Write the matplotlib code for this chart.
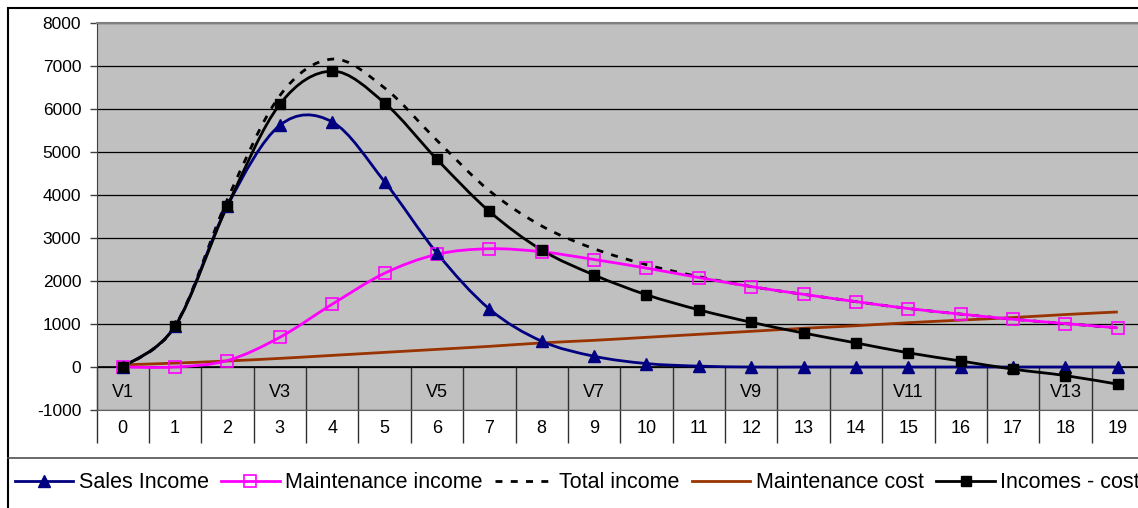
import numpy as np
import matplotlib
matplotlib.use("Agg")
import matplotlib.pyplot as plt
from matplotlib.path import Path
from matplotlib.patches import PathPatch, Rectangle
from matplotlib.lines import Line2D

plt.rcParams['font.family'] = ['Liberation Sans', 'DejaVu Sans']
plt.rcParams['axes.unicode_minus'] = False

periodo = list(range(20))
versoes = ["V1", "", "", "V3", "", "", "V5", "", "", "V7", "", "", "V9", "", "", "V11", "", "", "V13", ""]

sales_income = [0, 950, 3750, 5620, 5700, 4310, 2650, 1350, 600, 250, 80, 20, 0, 0, 0, 0, 0, 0, 0, 0]
maint_income = [0, 0, 150, 690, 1460, 2180, 2620, 2750, 2680, 2500, 2300, 2080, 1870, 1690, 1520, 1360, 1230, 1110, 1010, 910]
total_income = [0, 950, 3900, 6310, 7160, 6490, 5270, 4100, 3280, 2750, 2380, 2100, 1870, 1690, 1520, 1360, 1230, 1110, 1010, 910]
maint_cost = [50, 90, 140, 200, 270, 340, 410, 480, 560, 620, 690, 760, 830, 900, 960, 1030, 1090, 1150, 1220, 1280]
incomes_cost = [0, 950, 3750, 6110, 6880, 6140, 4830, 3620, 2720, 2140, 1680, 1330, 1040, 790, 560, 330, 140, -50, -200, -400]


def curva(xs, ys):
    # linha suavizada (bezier tipo catmull-rom)
    p = np.column_stack([xs, ys]).astype(float)
    n = len(p)
    verts = [p[0]]
    codes = [Path.MOVETO]
    for i in range(n - 1):
        p0 = p[i - 1] if i > 0 else p[i]
        p3 = p[i + 2] if i + 2 < n else p[i + 1]
        c1 = p[i] + (p[i + 1] - p0) / 6.0
        c2 = p[i + 1] - (p3 - p[i]) / 6.0
        verts += [c1, c2, p[i + 1]]
        codes += [Path.CURVE4] * 3
    return Path(verts, codes)


def desenha(ax, ys, cor, lw=2, ls='-', **mk):
    ax.add_patch(PathPatch(curva(periodo, ys), fill=False, edgecolor=cor, lw=lw,
                           linestyle=ls, capstyle='butt', zorder=3))
    if mk:
        ax.plot(periodo, ys, linestyle='none', zorder=4, **mk)


fig = plt.figure(figsize=(11.38, 5.08), dpi=100)
ax = fig.add_axes([96.5 / 1138, 98 / 508, 1047.5 / 1138, 387 / 508])
ax.set_facecolor('#C0C0C0')
ax.set_xlim(-0.5, 19.5)
ax.set_ylim(-1000, 8000)
ax.set_yticks(range(-1000, 8001, 1000))
ax.tick_params(axis='y', direction='out', length=5, width=1, color='#404040',
               labelsize=12.5, pad=6)
ax.set_xticks([])
ax.grid(axis='y', color='black', lw=0.9, zorder=1)
ax.spines['right'].set_visible(False)
ax.spines['top'].set_color('#808080')
ax.spines['top'].set_linewidth(1.5)
ax.spines['bottom'].set_color('#606060')
ax.spines['left'].set_color('#404040')

# eixo de categorias em dois niveis
ax.axhline(0, color='black', lw=1.2, zorder=2)
ax.vlines([i - 0.5 for i in range(21)], 0, -1770, colors='#303030', lw=1,
          clip_on=False, zorder=2)
for i in periodo:
    ax.text(i, -600, versoes[i], ha='center', va='center', fontsize=13, clip_on=False)
    ax.text(i, -1440, str(i), ha='center', va='center', fontsize=13, clip_on=False)

desenha(ax, maint_cost, '#993300', lw=2)
desenha(ax, total_income, 'black', lw=2, ls=(0, (2.5, 3)))
desenha(ax, maint_income, '#FF00FF', lw=2, marker='s', ms=8, mfc='none',
        mec='#FF00FF', mew=1.2)
desenha(ax, sales_income, '#000080', lw=2, marker='^', ms=9, mfc='#000080',
        mec='#000080')
desenha(ax, incomes_cost, 'black', lw=2, marker='s', ms=6.5, mfc='black', mec='black')

# moldura e separador da legenda
fig.patches.append(Rectangle((8 / 1138, -0.1), 1.2, 1 - 8 / 508 + 0.1,
                             transform=fig.transFigure, fill=False,
                             edgecolor='black', lw=1.5, zorder=0))
fig.lines.append(Line2D([8 / 1138, 1.0], [1 - 458 / 508] * 2, transform=fig.transFigure,
                        color='#505050', lw=1.2))

handles = [
    Line2D([], [], color='#000080', lw=2, marker='^', ms=9),
    Line2D([], [], color='#FF00FF', lw=2, marker='s', ms=8, mfc='none', mew=1.2),
    Line2D([], [], color='black', lw=2, ls=(0, (2.5, 3))),
    Line2D([], [], color='#993300', lw=2),
    Line2D([], [], color='black', lw=2, marker='s', ms=6.5),
]
nomes = ["Sales Income", "Maintenance income", "Total income", "Maintenance cost", "Incomes - cost"]
fig.legend(handles, nomes, loc='center left', bbox_to_anchor=(15 / 1138, 1 - 483 / 508),
           ncol=5, frameon=False, fontsize=15.5, handlelength=2.7, handletextpad=0.25,
           columnspacing=0.6, borderpad=0, borderaxespad=0)

fig.savefig('out.png', dpi=100)
